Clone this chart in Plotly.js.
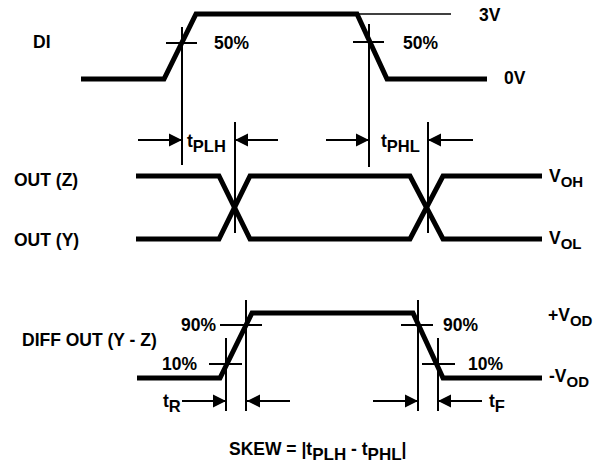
<!DOCTYPE html>
<html>
<head>
<meta charset="utf-8">
<script src="https://cdn.plot.ly/plotly-3.0.1.min.js"></script>
<style>html,body{margin:0;padding:0;background:#fff;}#chart{width:603px;height:470px;}</style>
</head>
<body>
<div id="chart"></div>
<script>
// ---- waveform data (time axis, level axis in diagram units) ----
const diTime   = [81, 164, 196, 357, 387, 487];
const diLevel  = [79, 79, 14, 14, 79, 79];
const zTime    = [136, 219, 250, 410, 443, 542];
const zLevel   = [176, 176, 239, 239, 176, 176];
const yTime    = [136, 219, 250, 410, 443, 542];
const yLevel   = [239, 239, 176, 176, 239, 239];
const diffTime = [137, 220, 252, 413, 443, 542];
const diffLevel= [378, 378, 313, 313, 378, 378];
const refTime  = [300, 451];
const refLevel = [14, 14];

// ---- measurement marker lines (x pairs, y pairs) ----
const markX = [182,182,null, 235,235,null, 369,369,null, 428,428,null,
               246,246,null, 226,226,null, 418,418,null, 438,438,null,
               166,197,null, 353,384,null, 220,262,null, 209,242,null,
               401,433,null, 422,455];
const markY = [27,165,null, 122,233,null, 24,167,null, 122,233,null,
               300,411,null, 338,411,null, 300,411,null, 338,411,null,
               43,43,null, 42,42,null, 325,325,null, 364,364,null,
               325,325,null, 364,364];

// ---- arrows: tip and tail ----
const arrowTipX  = [182, 235, 369, 428, 226, 247, 418, 438];
const arrowTailX = [138, 278, 326, 473, 182, 290, 373, 482];
const arrowY     = [140, 140, 140, 140, 401, 401, 401, 401];

// ---- labels ----
const SUB = (s, px) => '<span style="font-size:' + px + 'px;baseline-shift:-5px">' + s + '</span>';
const labelText = ['DI', '50%', '50%', '3V', '0V',
  't' + SUB('PLH', 16.5), 't' + SUB('PHL', 16.5),
  'OUT (Z)', 'OUT (Y)', 'V' + SUB('OH', 15), 'V' + SUB('OL', 15),
  'DIFF OUT (Y - Z)', '90%', '10%', '90%', '10%',
  '+V' + SUB('OD', 15), '-V' + SUB('OD', 15),
  't' + SUB('R', 16.5), 't' + SUB('F', 16.5),
  'SKEW = |t' + SUB('PLH', 17) + ' - t' + SUB('PHL', 17) + '|'];
const labelX = [31, 212, 401, 477, 502, 185, 379, 12, 12, 547, 547,
                20, 179, 160, 441, 466, 546, 547, 161, 487, 227];
const labelY = [42, 43, 43, 15, 78, 143, 143, 180, 240, 178, 240,
                340, 325, 364, 325, 364, 317, 378, 403, 403, 451];

// arrow shaft and head series built from the arrow arrays
const shaftX = [], shaftY = [];
arrowTipX.forEach((x, i) => { shaftX.push(arrowTailX[i], x, null); shaftY.push(arrowY[i], arrowY[i], null); });
const headSymbol = arrowTipX.map((x, i) => x > arrowTailX[i] ? 'arrow-right' : 'arrow-left');

const thick = {color: '#000', width: 5};
const traces = [
  {x: refTime, y: refLevel, mode: 'lines', line: {color: '#000', width: 1.6}},
  {x: diTime, y: diLevel, mode: 'lines', line: thick},
  {x: zTime, y: zLevel, mode: 'lines', line: thick},
  {x: yTime, y: yLevel, mode: 'lines', line: thick},
  {x: diffTime, y: diffLevel, mode: 'lines', line: thick},
  {x: markX, y: markY, mode: 'lines', line: {color: '#000', width: 2}, connectgaps: false},
  {x: shaftX, y: shaftY, mode: 'lines', line: {color: '#000', width: 2}, connectgaps: false},
  {x: arrowTipX, y: arrowY, mode: 'markers',
   marker: {symbol: headSymbol, size: 13, color: '#000', line: {width: 0}}}
].map(t => Object.assign({hoverinfo: 'skip', showlegend: false, type: 'scatter', cliponaxis: false}, t));

const font = {family: 'Liberation Sans, Arial, sans-serif', size: 17.5, color: '#000', weight: 'bold'};
const annotations = labelText.map((t, i) => ({
  x: labelX[i], y: labelY[i], xref: 'x', yref: 'y', text: t, showarrow: false,
  xanchor: 'left', yanchor: 'middle', font: font
}));

const layout = {
  width: 603, height: 470,
  margin: {l: 0, r: 0, t: 0, b: 0, pad: 0},
  paper_bgcolor: '#fff', plot_bgcolor: '#fff',
  xaxis: {range: [0, 603], visible: false, fixedrange: true},
  yaxis: {range: [470, 0], visible: false, fixedrange: true},
  showlegend: false,
  annotations: annotations
};
Plotly.newPlot('chart', traces, layout, {staticPlot: true, displayModeBar: false});
</script>
</body>
</html>
